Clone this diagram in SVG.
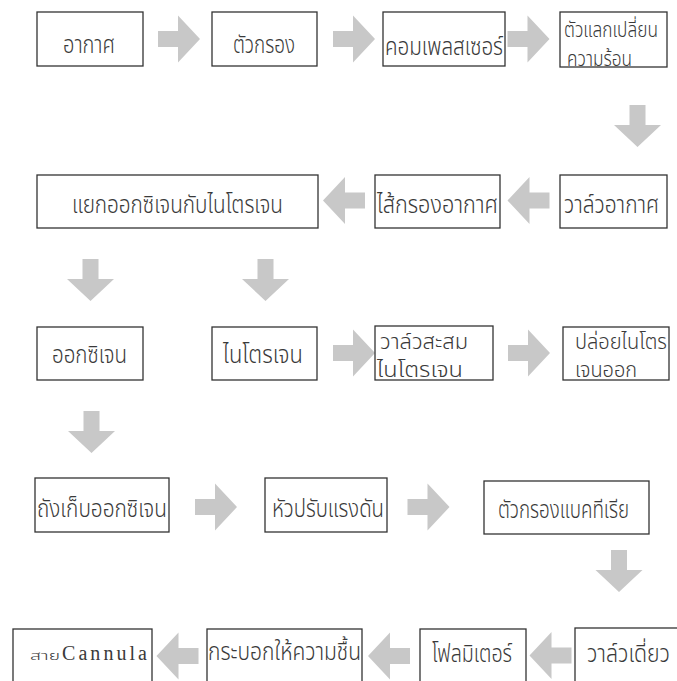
<svg xmlns="http://www.w3.org/2000/svg" xmlns:xlink="http://www.w3.org/1999/xlink" width="677" height="681" viewBox="0 0 677 681">
<defs>
<style>
.box{fill:#ffffff;stroke:#333333;stroke-width:1.3}
.arrow{fill:#c8c8c8}
.t{font-family:"Noto Sans Thai","Noto Sans","DejaVu Sans",sans-serif;font-size:24px;font-weight:300;fill:#3a3a3a}
.s{font-family:"Noto Sans Thai","Noto Sans","DejaVu Sans",sans-serif;font-size:21px;font-weight:300;fill:#3a3a3a}
.r{font-family:"Liberation Serif",serif;font-size:20px;fill:#3a3a3a}
.rs{font-family:"Noto Sans Thai","Noto Sans","DejaVu Sans",sans-serif;font-size:13px;font-weight:300;fill:#3a3a3a}
</style>
<path id="ar" class="arrow" d="M-21,-8 H-1 V-23.5 L21,0 L-1,23.5 V8 H-21 Z"/>
</defs>
<rect width="677" height="681" fill="#ffffff"/>
<g id="connectors">
<use xlink:href="#ar" transform="translate(179,39)"/>
<use xlink:href="#ar" transform="translate(354,39)"/>
<use xlink:href="#ar" transform="translate(528.5,39)"/>
<use xlink:href="#ar" transform="translate(637.5,126) rotate(90)"/>
<use xlink:href="#ar" transform="translate(528.5,200.5) rotate(180)"/>
<use xlink:href="#ar" transform="translate(344,200.5) rotate(180)"/>
<use xlink:href="#ar" transform="translate(90.5,280) rotate(90)"/>
<use xlink:href="#ar" transform="translate(265.5,280) rotate(90)"/>
<use xlink:href="#ar" transform="translate(354,353)"/>
<use xlink:href="#ar" transform="translate(529,353)"/>
<use xlink:href="#ar" transform="translate(91.5,432) rotate(90)"/>
<use xlink:href="#ar" transform="translate(216,507)"/>
<use xlink:href="#ar" transform="translate(428.5,507)"/>
<use xlink:href="#ar" transform="translate(619,571) rotate(90)"/>
<use xlink:href="#ar" transform="translate(550.5,655.5) rotate(180)"/>
<use xlink:href="#ar" transform="translate(389,656) rotate(180)"/>
<use xlink:href="#ar" transform="translate(177.5,656) rotate(180)"/>
</g>
<g id="n1"><rect class="box" x="37" y="12" width="106" height="54"/><text class="t" x="63" y="53" textLength="52" lengthAdjust="spacingAndGlyphs">อากาศ</text></g>
<g id="n2"><rect class="box" x="212" y="12" width="105" height="54"/><text class="t" x="233" y="53" textLength="62" lengthAdjust="spacingAndGlyphs">ตัวกรอง</text></g>
<g id="n3"><rect class="box" x="383" y="12" width="122" height="54"/><text class="t" x="385" y="55" textLength="118" lengthAdjust="spacingAndGlyphs">คอมเพลสเซอร์</text></g>
<g id="n4"><rect class="box" x="560" y="12" width="107" height="55"/><text class="s" x="564" y="37" textLength="94" lengthAdjust="spacingAndGlyphs">ตัวแลกเปลี่ยน</text><text class="s" x="567" y="66" textLength="65" lengthAdjust="spacingAndGlyphs">ความร้อน</text></g>
<g id="n5"><rect class="box" x="37" y="175" width="281" height="53"/><text class="t" x="72" y="213" textLength="211" lengthAdjust="spacingAndGlyphs">แยกออกซิเจนกับไนโตรเจน</text></g>
<g id="n6"><rect class="box" x="375" y="175" width="125" height="53"/><text class="t" x="377" y="213" textLength="121" lengthAdjust="spacingAndGlyphs">ไส้กรองอากาศ</text></g>
<g id="n7"><rect class="box" x="560" y="175" width="107" height="53"/><text class="t" x="564" y="213" textLength="95" lengthAdjust="spacingAndGlyphs">วาล์วอากาศ</text></g>
<g id="n8"><rect class="box" x="37" y="327" width="106" height="53"/><text class="t" x="52" y="363" textLength="75" lengthAdjust="spacingAndGlyphs">ออกซิเจน</text></g>
<g id="n9"><rect class="box" x="212" y="327" width="105" height="53"/><text class="t" x="223" y="363" textLength="80" lengthAdjust="spacingAndGlyphs">ไนโตรเจน</text></g>
<g id="n10"><rect class="box" x="375" y="326" width="118" height="54"/><text class="s" x="380" y="349" textLength="88" lengthAdjust="spacingAndGlyphs">วาล์วสะสม</text><text class="s" x="377" y="377" textLength="86" lengthAdjust="spacingAndGlyphs">ไนโตรเจน</text></g>
<g id="n11"><rect class="box" x="563" y="327" width="106" height="53"/><text class="s" x="575" y="349" textLength="92" lengthAdjust="spacingAndGlyphs">ปล่อยไนโตร</text><text class="s" x="575" y="377" textLength="62" lengthAdjust="spacingAndGlyphs">เจนออก</text></g>
<g id="n12"><rect class="box" x="35" y="478" width="134" height="54"/><text class="t" x="37" y="517" textLength="130" lengthAdjust="spacingAndGlyphs">ถังเก็บออกซิเจน</text></g>
<g id="n13"><rect class="box" x="265" y="478" width="122" height="54"/><text class="t" x="272" y="517" textLength="112" lengthAdjust="spacingAndGlyphs">หัวปรับแรงดัน</text></g>
<g id="n14"><rect class="box" x="484" y="481" width="165" height="53"/><text class="t" x="498" y="518" textLength="131" lengthAdjust="spacingAndGlyphs">ตัวกรองแบคทีเรีย</text></g>
<g id="n15"><rect class="box" x="13" y="629" width="139" height="70"/><text class="rs" x="30" y="660" textLength="30" lengthAdjust="spacingAndGlyphs">สาย</text><text class="r" x="62" y="660" textLength="85" lengthAdjust="spacing">Cannula</text></g>
<g id="n16"><rect class="box" x="207" y="629" width="155" height="70"/><text class="t" x="208" y="660" textLength="153" lengthAdjust="spacingAndGlyphs">กระบอกให้ความชื้น</text></g>
<g id="n17"><rect class="box" x="420" y="629" width="106" height="70"/><text class="t" x="432" y="662" textLength="80" lengthAdjust="spacingAndGlyphs">โฟลมิเตอร์</text></g>
<g id="n18"><rect class="box" x="575" y="628" width="110" height="70"/><text class="t" x="587" y="662" textLength="83" lengthAdjust="spacingAndGlyphs">วาล์วเดี่ยว</text></g>
</svg>
